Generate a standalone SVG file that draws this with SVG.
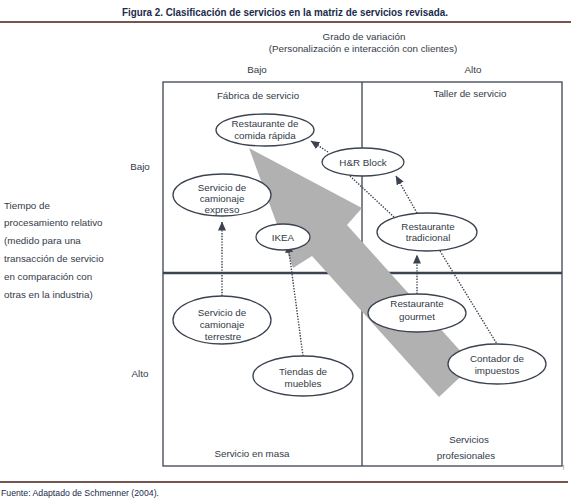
<svg xmlns="http://www.w3.org/2000/svg" width="571" height="502" viewBox="0 0 571 502">
<style>
.t{font-family:"Liberation Sans",Arial,sans-serif;font-size:9.8px;fill:#333b47;text-anchor:middle}
.l{text-anchor:start}
.grid{stroke:#3b4350;stroke-width:1.3;fill:none}
.node{fill:#fff;stroke:#3b4350;stroke-width:1.3}
.dot{stroke:#3b4350;stroke-width:1.4;stroke-dasharray:1.4 1.4;fill:none}
.arr{marker-end:url(#ah)}
</style>
<defs>
<marker id="ah" markerUnits="userSpaceOnUse" markerWidth="9" markerHeight="8" refX="8.5" refY="4" orient="auto">
<path d="M0,0 L9,4 L0,8 z" fill="#3b4350"/>
</marker>
</defs>
<rect width="571" height="502" fill="#fff"/>
<text x="285" y="16" font-family="'Liberation Sans',Arial,sans-serif" font-weight="bold" font-size="11.5" fill="#1c2b4b" text-anchor="middle" textLength="326" lengthAdjust="spacingAndGlyphs">Figura 2. Clasificación de servicios en la matriz de servicios revisada.</text>
<line x1="0" y1="22" x2="571" y2="22" stroke="#4a1e14" stroke-width="1.5"/>
<text class="t" x="364" y="40">Grado de variación</text>
<text class="t" x="363" y="52">(Personalización e interacción con clientes)</text>
<text class="t" x="257" y="73">Bajo</text>
<text class="t" x="473" y="73">Alto</text>
<text class="t" x="140" y="170">Bajo</text>
<text class="t" x="140" y="377">Alto</text>
<g id="axis-left">
<text class="t l" x="4" y="208.5">Tiempo de</text>
<text class="t l" x="4" y="226.3">procesamiento relativo</text>
<text class="t l" x="4" y="244.1">(medido para una</text>
<text class="t l" x="4" y="261.9">transacción de servicio</text>
<text class="t l" x="4" y="279.7">en comparación con</text>
<text class="t l" x="4" y="297.5">otras en la industria)</text>
</g>
<g id="matrix">
<rect class="grid" x="163" y="82" width="399" height="384"/>
<line class="grid" x1="362" y1="82" x2="362" y2="466"/>
<line x1="163" y1="273" x2="562" y2="273" stroke="#3b4350" stroke-width="2.4"/>
<text class="t" x="258" y="98.5">Fábrica de servicio</text>
<text class="t" x="470" y="97">Taller de servicio</text>
<text class="t" x="252" y="457">Servicio en masa</text>
<text class="t" x="469" y="443">Servicios</text>
<text class="t" x="466" y="459">profesionales</text>
</g>
<polygon id="big-arrow" points="249,148 362,208 347,225 473,365 439,397 312,256 293,268" fill="#b1b1b1"/>
<g id="connectors">
<line class="dot arr" x1="222" y1="296" x2="222" y2="222"/>
<line class="dot arr" x1="303" y1="356" x2="288" y2="244"/>
<line class="dot arr" x1="328" y1="152" x2="311" y2="141"/>
<line class="dot arr" x1="417" y1="213" x2="396" y2="176"/>
<line class="dot arr" x1="417" y1="294" x2="417" y2="255"/>
<line class="dot" x1="350" y1="176" x2="394" y2="217"/>
<line class="dot" x1="440" y1="251" x2="497" y2="344"/>
</g>
<g id="comida-rapida">
<ellipse class="node" cx="265" cy="130" rx="49" ry="16"/>
<text class="t" x="265" y="127">Restaurante de</text>
<text class="t" x="265" y="139">comida rápida</text>
</g>
<g id="camionaje-expreso">
<ellipse class="node" cx="222" cy="195" rx="49" ry="21"/>
<text class="t" x="222" y="191">Servicio de</text>
<text class="t" x="222" y="202">camionaje</text>
<text class="t" x="222" y="213">expreso</text>
</g>
<g id="ikea">
<ellipse class="node" cx="283" cy="237" rx="27" ry="13"/>
<text class="t" x="283" y="240.5">IKEA</text>
</g>
<g id="hr-block">
<ellipse class="node" cx="363" cy="162" rx="41" ry="14"/>
<text class="t" x="363" y="165.5">H&amp;R Block</text>
</g>
<g id="restaurante-tradicional">
<ellipse class="node" cx="427" cy="232" rx="50" ry="19"/>
<text class="t" x="428" y="229.5">Restaurante</text>
<text class="t" x="428" y="241">tradicional</text>
</g>
<g id="restaurante-gourmet">
<ellipse class="node" cx="417" cy="313" rx="49" ry="19"/>
<text class="t" x="417" y="307">Restaurante</text>
<text class="t" x="417" y="320">gourmet</text>
</g>
<g id="contador">
<ellipse class="node" cx="497" cy="364" rx="49" ry="20"/>
<text class="t" x="497" y="361.5">Contador de</text>
<text class="t" x="497" y="373.5">impuestos</text>
</g>
<g id="camionaje-terrestre">
<ellipse class="node" cx="222" cy="320" rx="49" ry="24"/>
<text class="t" x="222" y="315.5">Servicio de</text>
<text class="t" x="222" y="327.5">camionaje</text>
<text class="t" x="223" y="339.5">terrestre</text>
</g>
<g id="tiendas-muebles">
<ellipse class="node" cx="303" cy="376" rx="50" ry="20"/>
<text class="t" x="303" y="375">Tiendas de</text>
<text class="t" x="303" y="387">muebles</text>
</g>
<text x="563.5" y="470" font-family="'Liberation Sans',Arial,sans-serif" font-size="7" fill="#777" text-anchor="middle">!</text>
<line x1="0" y1="482" x2="568" y2="482" stroke="#4a1e14" stroke-width="1.5"/>
<text x="1" y="496" font-family="'Liberation Sans',Arial,sans-serif" font-size="9" fill="#1c2b4b" textLength="158" lengthAdjust="spacingAndGlyphs">Fuente: Adaptado de Schmenner (2004).</text>
</svg>
